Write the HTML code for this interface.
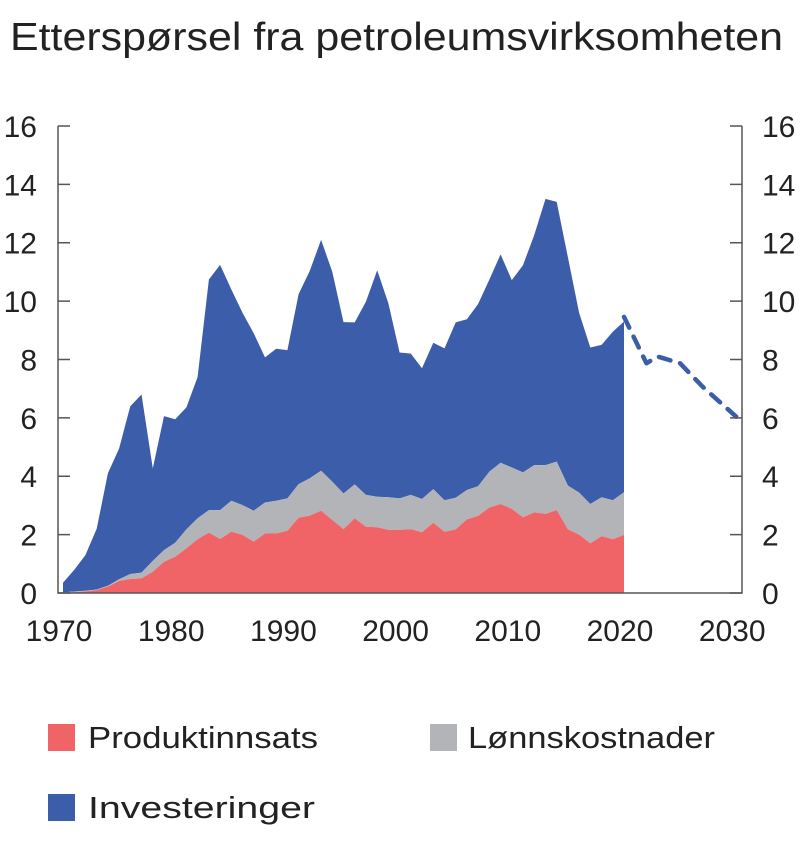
<!DOCTYPE html>
<html><head><meta charset="utf-8"><style>
body{margin:0;background:#fff;}
svg text{font-family:"Liberation Sans",sans-serif;fill:#222;}
</style></head><body>
<svg id="chart" width="800" height="839">
<text x="10" y="50" font-size="39" textLength="773" lengthAdjust="spacingAndGlyphs">Etterspørsel fra petroleumsvirksomheten</text>
<g id="plot"></g>
<g>
<rect x="48" y="724" width="27" height="27" fill="#f06467"/>
<text x="88" y="748" font-size="31" textLength="230" lengthAdjust="spacingAndGlyphs">Produktinnsats</text>
<rect x="430" y="724" width="27" height="27" fill="#b3b4b8"/>
<text x="468" y="748" font-size="31" textLength="247" lengthAdjust="spacingAndGlyphs">Lønnskostnader</text>
<rect x="48" y="794" width="27" height="27" fill="#3c5da9"/>
<text x="88" y="818" font-size="31" textLength="227" lengthAdjust="spacingAndGlyphs">Investeringer</text>
</g>
</svg>
<script>
const years = [];
for (let y = 1970; y <= 2020; y++) years.push(y);
const produktinnsats = [0,0.03,0.05,0.1,0.22,0.41,0.48,0.5,0.73,1.07,1.24,1.53,1.84,2.07,1.85,2.1,1.99,1.76,2.04,2.04,2.13,2.58,2.65,2.82,2.5,2.19,2.56,2.27,2.25,2.16,2.16,2.19,2.08,2.41,2.1,2.18,2.52,2.64,2.93,3.05,2.88,2.59,2.76,2.71,2.84,2.18,2.0,1.7,1.95,1.84,1.99];
const lonnskostnader = [0.02,0.02,0.03,0.02,0.03,0.06,0.17,0.2,0.37,0.4,0.48,0.65,0.72,0.77,0.99,1.06,1.02,1.06,1.06,1.12,1.11,1.15,1.28,1.37,1.31,1.22,1.16,1.09,1.05,1.12,1.08,1.17,1.14,1.15,1.08,1.08,1.01,1.02,1.23,1.41,1.42,1.54,1.62,1.67,1.66,1.5,1.44,1.35,1.33,1.34,1.46];
const investeringer = [0.33,0.74,1.22,2.08,3.85,4.48,5.75,6.1,3.17,4.59,4.23,4.18,4.84,7.9,8.4,7.24,6.59,6.08,4.97,5.21,5.08,6.51,7.11,7.91,7.19,5.87,5.55,6.62,7.76,6.64,5.0,4.84,4.48,5.01,5.2,6.01,5.85,6.24,6.58,7.14,6.42,7.1,7.88,9.12,8.9,7.82,6.16,5.36,5.22,5.77,5.85];
const forecastYears = [2020,2022,2023,2025,2027,2030];
const forecastValues = [9.46,7.87,8.1,7.87,7.07,6.04];
const yTicks = [0,2,4,6,8,10,12,14,16];
const xTicks = [1970,1980,1990,2000,2010,2020,2030];

const NS = "http://www.w3.org/2000/svg";
const plot = document.getElementById('plot');
const xS = v => 63 + (v - 1970) * 11.22;
const yS = v => 593 - v * 29.19;
function mk(tag, attrs){ const e=document.createElementNS(NS,tag); for(const k in attrs) e.setAttribute(k,attrs[k]); plot.appendChild(e); return e; }

const cum0 = years.map(()=>0);
const cum1 = produktinnsats.slice();
const cum2 = cum1.map((v,i)=>v+lonnskostnader[i]);
const cum3 = cum2.map((v,i)=>v+investeringer[i]);
function area(lower, upper, color, name){
  let d = 'M' + years.map((y,i)=>xS(y).toFixed(1)+','+yS(upper[i]).toFixed(1)).join('L');
  for (let i = years.length-1; i>=0; i--) d += 'L'+xS(years[i]).toFixed(1)+','+yS(lower[i]).toFixed(1);
  const p = mk('path',{d:d+'Z',fill:color});
  
  
}
area(cum2, cum3, '#3c5da9', 'area-investeringer');
area(cum1, cum2, '#b3b4b8', 'area-lonnskostnader');
area(cum0, cum1, '#f06467', 'area-produktinnsats');

const fl = mk('polyline',{points:forecastYears.map((y,i)=>xS(y)+','+yS(forecastValues[i])).join(' '),fill:'none',stroke:'#3c5da9','stroke-width':4.5,'stroke-dasharray':'12 10','stroke-linecap':'round','stroke-linejoin':'round'});



const ax = mk('path',{d:'M58,126V593H742V126',fill:'none',stroke:'#555','stroke-width':1.5});


yTicks.forEach(t=>{
  const y = yS(t);
  const tk = mk('path',{d:`M58,${y}H70M742,${y}H730`,stroke:'#555','stroke-width':1.5});
  
  
  const l = mk('text',{x:37,y:y+11,'font-size':30,'text-anchor':'end'}); l.textContent=t;
  
  
  const r = mk('text',{x:762,y:y+11,'font-size':30,'text-anchor':'start'}); r.textContent=t;
  
  
});
xTicks.forEach(t=>{
  const l = mk('text',{x:xS(t)-4,y:641,'font-size':30,'text-anchor':'middle'}); l.textContent=t;
  
  
});
</script>
</body></html>
